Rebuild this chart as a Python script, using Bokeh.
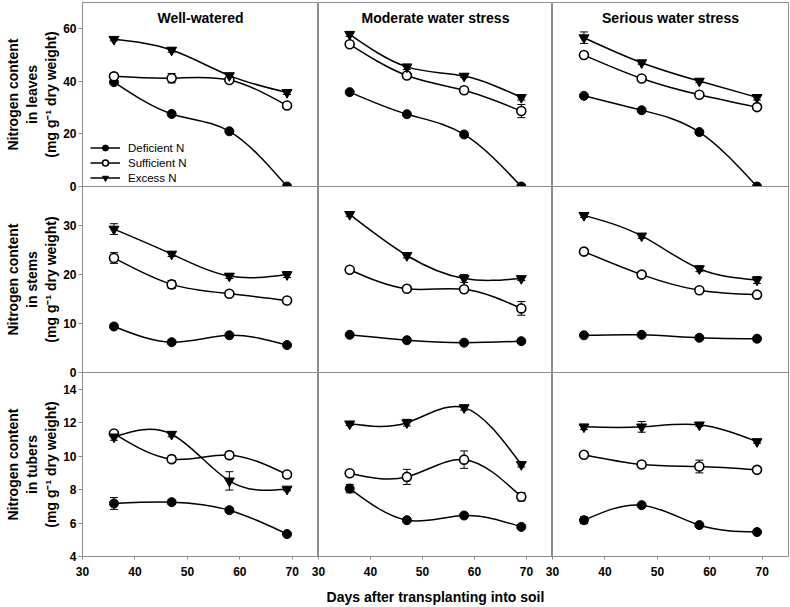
import numpy as np
from bokeh.plotting import figure
from bokeh.layouts import column, row
from bokeh.models import (Range1d, Label, Legend, LegendItem, Whisker, TeeHead,
                          ColumnDataSource, FixedTicker)
from bokeh.embed import file_html
from bokeh.resources import INLINE

# ---------------- data ----------------
days = [36, 47, 58, 69]
conditions = ["Well-watered", "Moderate water stress", "Serious water stress"]
series_names = ["Deficient N", "Sufficient N", "Excess N"]
y_titles = ["Nitrogen content\nin leaves\n(mg g\u207b\u00b9 dry weight)",
            "Nitrogen content\nin stems\n(mg g\u207b\u00b9 dry weight)",
            "Nitrogen content\nin tubers\n(mg g\u207b\u00b9 dry weight)"]
x_title = "Days after transplanting into soil"
x_ticks = [30, 40, 50, 60, 70]
y_ticks_leaves = [0, 20, 40, 60]
y_ticks_stems = [0, 10, 20, 30]
y_ticks_tubers = [4, 6, 8, 10, 12, 14]

# values per condition: [well-watered, moderate, serious]
leaves_deficient = [[39.7, 27.6, 21.0, 0.0], [35.9, 27.5, 19.8, 0.0], [34.5, 29.0, 20.7, 0.0]]
leaves_sufficient = [[41.9, 41.2, 40.5, 30.8], [54.1, 42.2, 36.6, 28.7], [50.0, 41.1, 34.9, 30.2]]
leaves_excess = [[56.0, 51.9, 42.2, 35.8], [57.9, 45.5, 42.0, 33.9], [56.6, 47.1, 40.1, 33.9]]
stems_deficient = [[9.4, 6.2, 7.6, 5.6], [7.7, 6.6, 6.1, 6.4], [7.6, 7.7, 7.1, 6.9]]
stems_sufficient = [[23.4, 18.0, 16.1, 14.7], [21.0, 17.1, 17.0, 13.1], [24.7, 20.0, 16.8, 15.9]]
stems_excess = [[29.3, 24.2, 19.7, 20.0], [32.3, 23.9, 19.2, 19.2], [32.1, 27.9, 21.2, 18.9]]
tubers_deficient = [[7.17, 7.25, 6.77, 5.34], [8.06, 6.17, 6.45, 5.77], [6.17, 7.07, 5.88, 5.46]]
tubers_sufficient = [[11.35, 9.82, 10.06, 8.90], [8.98, 8.76, 9.79, 7.57], [10.08, 9.50, 9.38, 9.18]]
tubers_excess = [[11.15, 11.31, 8.52, 8.03], [11.93, 12.0, 12.9, 9.50], [11.75, 11.75, 11.87, 10.87]]

# standard errors
leaves_deficient_err = [[0.8, 0.6, 0.6, 0.3], [0.5, 0.5, 0.6, 0.3], [0.5, 0.5, 0.6, 0.3]]
leaves_sufficient_err = [[0.8, 1.8, 0.8, 0.6], [0.8, 1.0, 1.0, 2.5], [0.6, 0.6, 0.6, 0.8]]
leaves_excess_err = [[0.6, 0.8, 0.8, 0.8], [0.8, 1.0, 0.6, 1.0], [2.2, 0.6, 0.6, 1.0]]
stems_deficient_err = [[0.3, 0.3, 0.3, 0.3], [0.3, 0.3, 0.3, 0.3], [0.3, 0.3, 0.3, 0.3]]
stems_sufficient_err = [[1.1, 0.8, 0.4, 0.4], [0.4, 0.4, 0.5, 1.4], [0.4, 0.6, 0.4, 0.4]]
stems_excess_err = [[1.1, 0.5, 0.5, 0.6], [0.4, 0.5, 0.8, 0.4], [0.4, 0.5, 0.6, 0.7]]
tubers_deficient_err = [[0.35, 0.1, 0.15, 0.15], [0.25, 0.1, 0.12, 0.1], [0.2, 0.1, 0.1, 0.15]]
tubers_sufficient_err = [[0.1, 0.2, 0.2, 0.1], [0.15, 0.45, 0.52, 0.25], [0.1, 0.1, 0.38, 0.1]]
tubers_excess_err = [[0.2, 0.15, 0.55, 0.1], [0.1, 0.2, 0.15, 0.15], [0.15, 0.32, 0.1, 0.1]]

values = [[leaves_deficient, leaves_sufficient, leaves_excess],
          [stems_deficient, stems_sufficient, stems_excess],
          [tubers_deficient, tubers_sufficient, tubers_excess]]
errors = [[leaves_deficient_err, leaves_sufficient_err, leaves_excess_err],
          [stems_deficient_err, stems_sufficient_err, stems_excess_err],
          [tubers_deficient_err, tubers_sufficient_err, tubers_excess_err]]
y_ranges = [(0, 70), (0, 38), (4, 15)]
y_tick_sets = [y_ticks_leaves, y_ticks_stems, y_ticks_tubers]


def spline_bezier(xs, ys):
    """Natural cubic spline through the points, expressed as cubic Bezier segments."""
    x = np.asarray(xs, float)
    y = np.asarray(ys, float)
    n = len(x)
    h = np.diff(x)
    A = np.zeros((n, n))
    r = np.zeros(n)
    A[0, 0] = A[-1, -1] = 1.0
    for i in range(1, n - 1):
        A[i, i - 1] = h[i - 1]
        A[i, i] = 2 * (h[i - 1] + h[i])
        A[i, i + 1] = h[i]
        r[i] = 6 * ((y[i + 1] - y[i]) / h[i] - (y[i] - y[i - 1]) / h[i - 1])
    M = np.linalg.solve(A, r)
    s = np.diff(y) / h
    d0 = s - h * (2 * M[:-1] + M[1:]) / 6
    d1 = s + h * (M[:-1] + 2 * M[1:]) / 6
    return dict(x0=x[:-1], y0=y[:-1], x1=x[1:], y1=y[1:],
                cx0=x[:-1] + h / 3, cy0=y[:-1] + h / 3 * d0,
                cx1=x[1:] - h / 3, cy1=y[1:] - h / 3 * d1)


FONT = "Liberation Sans"
GRAY = "#8c8c8c"
B = 8
FRAME_W = [236, 234, 236]
FRAME_H = [184, 186, 184]
LEFT = 82

marker_styles = [
    dict(marker="circle", size=9, fill_color="black", line_color="black", line_width=1),
    dict(marker="circle", size=9, fill_color="white", line_color="black", line_width=1.6),
    dict(marker="inverted_triangle", size=10, fill_color="black", line_color="black", line_width=1),
]

rows = []
for r in range(3):
    figs = []
    for c in range(3):
        left = LEFT if c == 0 else B
        right = 1 if c == 2 else 0
        top = 2 if r == 0 else 0
        bottom = 51 if r == 2 else B
        FW, FH = FRAME_W[c], FRAME_H[r]
        p = figure(width=left + FW + right, height=top + FH + bottom,
                   x_range=Range1d(30, 75), y_range=Range1d(*y_ranges[r]),
                   output_backend="svg", toolbar_location=None,
                   x_axis_location="below" if r == 2 else None,
                   y_axis_location="left" if c == 0 else None,
                   min_border_left=left, min_border_right=right,
                   min_border_top=top, min_border_bottom=bottom,
                   border_fill_color=None, background_fill_color=None,
                   outline_line_color=GRAY, outline_line_width=1)
        p.margin = (0, 0, -B if r < 2 else 0, -B if c > 0 else 0)
        p.grid.visible = False

        if c == 0:
            yax = p.yaxis[0]
            yax.ticker = FixedTicker(ticks=y_tick_sets[r])
            yax.axis_line_color = GRAY
            yax.major_tick_line_color = GRAY
            yax.minor_tick_line_color = None
            yax.major_tick_out = 4
            yax.major_tick_in = 0
            yax.major_label_standoff = 2
            yax.major_label_text_font = FONT
            yax.major_label_text_font_style = "bold"
            yax.major_label_text_font_size = "12px"
            yax.major_label_text_color = "black"
            yax.axis_label = y_titles[r]
            yax.axis_label_standoff = 1
            yax.axis_label_text_font = FONT
            yax.axis_label_text_font_style = "bold"
            yax.axis_label_text_font_size = "14px"
            yax.axis_label_text_color = "black"

        if r == 2:
            xax = p.xaxis[0]
            xax.ticker = FixedTicker(ticks=x_ticks)
            xax.axis_line_color = GRAY
            xax.major_tick_line_color = GRAY
            xax.minor_tick_line_color = None
            xax.major_tick_out = 3
            xax.major_tick_in = 0
            xax.major_label_standoff = 7
            xax.major_label_text_font = FONT
            xax.major_label_text_font_style = "bold"
            xax.major_label_text_font_size = "12px"
            xax.major_label_text_color = "black"
            if c == 1:
                xax.axis_label = x_title
                xax.axis_label_standoff = 10
                xax.axis_label_text_font = FONT
                xax.axis_label_text_font_style = "bold"
                xax.axis_label_text_font_size = "14px"
                xax.axis_label_text_color = "black"

        legend_items = []
        for s in range(3):
            vals = values[r][s][c]
            errs = errors[r][s][c]
            src = ColumnDataSource(dict(
                x=days, y=vals,
                upper=[v + e for v, e in zip(vals, errs)],
                lower=[v - e for v, e in zip(vals, errs)]))
            w = Whisker(source=src, base="x", upper="upper", lower="lower",
                        dimension="height", line_color="black", line_width=1,
                        upper_head=TeeHead(size=8, line_color="black", line_width=1),
                        lower_head=TeeHead(size=8, line_color="black", line_width=1))
            p.add_layout(w)
            bez = p.bezier(source=ColumnDataSource(spline_bezier(days, vals)),
                           x0="x0", y0="y0", x1="x1", y1="y1",
                           cx0="cx0", cy0="cy0", cx1="cx1", cy1="cy1",
                           line_color="black", line_width=1.5)
            sc = p.scatter(x="x", y="y", source=src, **marker_styles[s])
            legend_items.append(LegendItem(label=series_names[s], renderers=[bez, sc]))

        if r == 0:
            yr = y_ranges[r]
            p.add_layout(Label(x=52.5, y=yr[1] - (yr[1] - yr[0]) * 15.0 / FH,
                               text=conditions[c], text_align="center",
                               text_baseline="middle", text_font=FONT,
                               text_font_style="bold", text_font_size="14px",
                               text_color="black"))
        if r == 0 and c == 0:
            leg = Legend(items=legend_items, location=(8, 1),
                         border_line_color=None, background_fill_alpha=0,
                         label_text_font=FONT, label_text_font_size="11.5px",
                         label_text_color="black",
                         glyph_width=30, glyph_height=15, label_height=15,
                         spacing=0, padding=2, margin=0, label_standoff=8)
            p.add_layout(leg)
        figs.append(p)
    rows.append(row(*figs))

layout = column(*rows)
open("out.html", "w").write(file_html(layout, INLINE))
